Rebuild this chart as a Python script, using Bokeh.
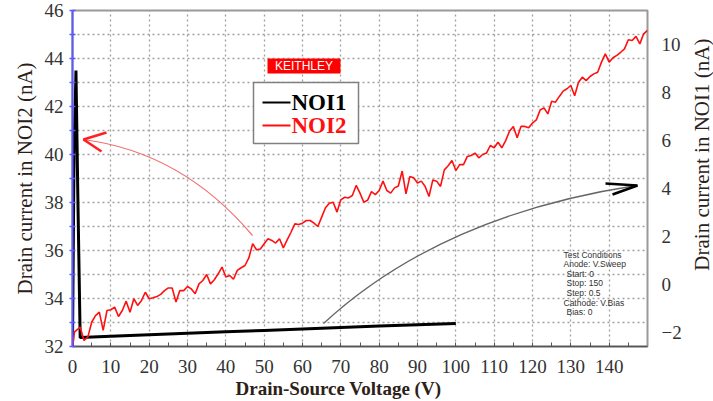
import numpy as np
from bokeh.plotting import figure
from bokeh.layouts import row
from bokeh.models import Range1d, LinearAxis, FixedTicker, Label, Title
from bokeh.embed import file_html
from bokeh.resources import INLINE
from bokeh.core.properties import value

# ---------------- data ----------------
noi2_v = [0, 0.5] + list(range(1, 151))
noi2_i = [31.9, 32.6,
          32.67, 32.81, 32.25, 32.39, 33.01, 33.29, 33.43, 32.67, 33.5, 33.53,
          33.64, 33.25, 33.5, 33.89, 33.43, 33.99, 33.71, 33.92, 34.26, 33.99,
          34.03, 34.08, 34.17, 34.33, 34.44, 34.44, 33.85, 34.33, 34.33, 34.5,
          34.4, 34.2, 34.61, 34.75, 35.0, 34.61, 34.78, 35.03, 35.31, 34.9,
          34.96, 34.8, 35.17, 35.28, 35.375, 35.69, 36.28, 36.03, 36.06, 36.28,
          36.49, 36.42, 36.31, 36.49, 36.11, 36.44, 36.76, 37.11, 37.08, 37.14,
          37.25, 37.25, 37.14, 37.0, 37.39, 37.78, 37.97, 38.01, 37.6, 38.11,
          38.22, 38.19, 38.29, 38.71, 38.39, 38.01, 38.1, 38.45, 38.33, 38.5,
          38.89, 38.5, 38.39, 38.61, 38.69, 39.31, 38.36, 39.08, 39.03, 38.81,
          38.89, 38.67, 38.25, 38.94, 38.89, 38.67, 39.36, 39.53, 39.75, 39.33,
          39.58, 39.58, 39.92, 39.96, 40.06, 39.86, 40.0, 40.06, 40.375, 40.28,
          40.51, 40.28, 40.58, 40.97, 41.17, 40.7, 41.17, 41.17, 41.11, 41.31,
          41.44, 41.86, 41.94, 41.69, 42.22, 42.18, 42.42, 42.64, 42.74, 42.875,
          42.45, 43.01, 43.22, 43.08, 43.25, 43.36, 43.43, 43.85, 44.19, 43.85,
          44.03, 44.13, 44.26, 44.4, 44.78, 44.75, 44.92, 44.61, 45.03, 45.17]

noi1_v = [0, 0.4, 0.75, 0.9, 1.4, 2, 10, 20, 30, 40, 50, 60, 70, 80, 90, 100]
noi1_i = [-2.6, 5.44, 7.73, 8.9, 3.6, -2.23, -2.17, -2.11, -2.05, -1.99,
          -1.93, -1.87, -1.81, -1.75, -1.69, -1.64]

x_ticks = [0, 10, 20, 30, 40, 50, 60, 70, 80, 90, 100, 110, 120, 130, 140]
x_minor = [5, 15, 25, 35, 45, 55, 65, 75, 85, 95, 105, 115, 125, 135, 145]
left_ticks = [32, 34, 36, 38, 40, 42, 44, 46]
left_minor = [33, 35, 37, 39, 41, 43, 45]
right_ticks = [-2, 0, 2, 4, 6, 8, 10]

test_lines = ["Test Conditions", "Anode: V.Sweep", " Start: 0", " Stop: 150",
              " Step: 0.5", "Cathode: V.Bias", " Bias: 0"]

# ---------------- layout constants ----------------
W, H = 713, 401
SIDE_W = 24                      # strip holding the right-hand title
MAIN_W = W - SIDE_W
FL, FR, FT, FB = 72, 647, 10, 346
XR = (0, 150)
YL = (32, 46)
YR = (-2.6, 11.4)


def fx(px):
    return XR[0] + (px - FL) * (XR[1] - XR[0]) / (FR - FL)


def fy(py):
    return YL[1] - (py - FT) * (YL[1] - YL[0]) / (FB - FT)


p = figure(width=MAIN_W, height=H, x_range=Range1d(*XR), y_range=Range1d(*YL),
           output_backend="svg", toolbar_location=None,
           min_border_left=FL, min_border_right=MAIN_W - FR,
           min_border_top=FT, min_border_bottom=H - FB)
p.extra_y_ranges = {"noi1": Range1d(*YR)}
p.background_fill_color = "white"
p.border_fill_color = "white"
p.outline_line_color = "#999999"
p.outline_line_width = 2

tick_font = "Liberation Serif"
tick_color = "#333333"
title_color = "#2b2118"

# x axis
xa = p.xaxis[0]
xa.ticker = FixedTicker(ticks=x_ticks, minor_ticks=x_minor)
xa.axis_line_color = "#555555"
xa.axis_line_width = 1.5
xa.major_tick_line_color = "#555555"
xa.minor_tick_line_color = "#555555"
xa.major_tick_in = 4
xa.major_tick_out = 0
xa.minor_tick_in = 4
xa.minor_tick_out = 0
xa.major_label_standoff = 13
xa.major_label_text_font = tick_font
xa.major_label_text_font_size = "19px"
xa.major_label_text_color = tick_color

# left axis
ya = p.yaxis[0]
ya.ticker = FixedTicker(ticks=left_ticks, minor_ticks=left_minor)
ya.axis_line_color = "#5a5aff"
ya.axis_line_width = 2
ya.major_tick_line_color = "#5a5aff"
ya.minor_tick_line_color = "#5a5aff"
ya.major_tick_line_width = 1.5
ya.minor_tick_line_width = 1.5
ya.major_tick_in = 3
ya.major_tick_out = 3
ya.minor_tick_in = 3
ya.minor_tick_out = 3
ya.major_label_standoff = 6
ya.major_label_text_font = tick_font
ya.major_label_text_font_size = "19px"
ya.major_label_text_color = tick_color
ya.axis_label = "Drain current in NOI2 (nA)"
ya.axis_label_standoff = 5
ya.axis_label_text_font = tick_font
ya.axis_label_text_font_style = "normal"
ya.axis_label_text_font_size = "21px"
ya.axis_label_text_color = title_color

# right axis (tick labels only; title lives in the side strip)
ra = LinearAxis(y_range_name="noi1", ticker=FixedTicker(ticks=right_ticks))
ra.axis_line_color = None
ra.major_tick_line_color = None
ra.minor_tick_line_color = None
ra.major_tick_out = 0
ra.major_label_standoff = 14
ra.major_label_text_font = tick_font
ra.major_label_text_font_size = "19px"
ra.major_label_text_color = tick_color
p.add_layout(ra, "right")

# x title (shifted left like the reference)
p.add_layout(Title(text="Drain-Source Voltage (V)", align="left", offset=163,
                   standoff=0, text_font=tick_font, text_font_style="bold",
                   text_font_size="19px", text_color=title_color), "below")

# grids
for g in (p.xgrid[0], p.ygrid[0]):
    g.grid_line_color = "#a0a0a0"
    g.grid_line_dash = "2 3"
    g.grid_line_width = 1.3
p.ygrid[0].minor_grid_line_color = "#a0a0a0"
p.ygrid[0].minor_grid_line_dash = "2 3"
p.ygrid[0].minor_grid_line_width = 1.3

# data lines
p.line(noi1_v, noi1_i, y_range_name="noi1", line_color="black", line_width=3)
p.line(noi2_v, noi2_i, line_color="#ff1010", line_width=1.6)

# arrows (annotation)
p.quadratic(x0=[fx(252)], y0=[fy(235)], x1=[fx(83)], y1=[fy(139)],
            cx=[fx(182)], cy=[fy(152)], line_color="#f07070", line_width=1.2)
p.multi_line(xs=[[fx(106), fx(83), fx(101)]], ys=[[fy(132), fy(139), fy(151)]],
             line_color="#ff2020", line_width=2.5)
p.quadratic(x0=[fx(323)], y0=[fy(323)], x1=[fx(636)], y1=[fy(185)],
            cx=[fx(440)], cy=[fy(215)], line_color="#666666", line_width=1.3)
p.multi_line(xs=[[fx(605), fx(637), fx(612)]], ys=[[fy(183), fy(185), fy(194)]],
             line_color="black", line_width=2.5)

# KEITHLEY badge
p.quad(left=[fx(267)], right=[fx(340)], top=[fy(58)], bottom=[fy(73)],
       fill_color="#ff0000", line_color=None)
p.add_layout(Label(x=fx(303.5), y=fy(65.5), text="KEITHLEY", text_color="white",
                   text_font="Liberation Sans", text_font_size="12px",
                   text_align="center", text_baseline="middle"))

# legend box (manual so labels can be coloured)
p.quad(left=[fx(253)], right=[fx(358)], top=[fy(82)], bottom=[fy(143)],
       fill_color="white", line_color="#808080", line_width=1.5)
leg_names = ["NOI1", "NOI2"]
leg_colors = ["black", "#ff1010"]
leg_py = [102, 125]
for nm, col, py in zip(leg_names, leg_colors, leg_py):
    p.line([fx(262), fx(290)], [fy(py), fy(py)], line_color=col, line_width=2)
    p.add_layout(Label(x=fx(291), y=fy(py), text=nm, text_color=col,
                       text_font="Liberation Serif", text_font_style="bold",
                       text_font_size="23px", text_baseline="middle"))

# test conditions
tc_x = [fx(563) if not s.startswith(" ") else fx(566) for s in test_lines]
tc_y = [fy(254 + 9.6 * i) for i in range(len(test_lines))]
p.text(x=tc_x, y=tc_y, text=[s.strip() for s in test_lines],
       text_font=value("Liberation Sans"), text_font_size=value("8.5px"),
       text_color="#333333", text_baseline="middle")

# side strip with the right-hand axis title (reads bottom-to-top)
s = figure(width=SIDE_W, height=H, x_range=Range1d(0, SIDE_W), y_range=Range1d(H, 0),
           output_backend="svg", toolbar_location=None,
           min_border=0, min_border_left=0, min_border_right=0,
           min_border_top=0, min_border_bottom=0)
s.axis.visible = False
s.grid.visible = False
s.outline_line_color = None
s.background_fill_color = "white"
s.border_fill_color = "white"
s.text(x=[701 - MAIN_W], y=[172], text=["Drain current in NOI1 (nA)"],
       angle=np.pi / 2, text_align="center", text_baseline="middle",
       text_font=value(tick_font), text_font_size=value("21px"),
       text_color=title_color)

layout = row(p, s, spacing=0)
open("out.html", "w").write(file_html(layout, INLINE))
